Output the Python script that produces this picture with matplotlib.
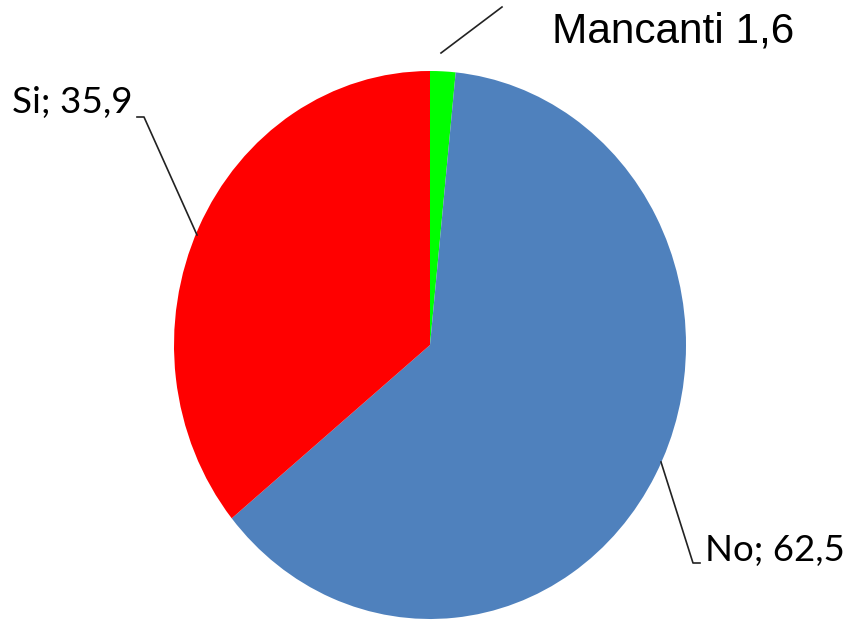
import matplotlib
matplotlib.use("Agg")
from matplotlib import pyplot as plt
from matplotlib.lines import Line2D

# data
labels = ["Mancanti", "No", "Si"]
values = [1.6, 62.5, 35.9]
colors = ["#00FF00", "#4F81BD", "#FF0000"]

W, H = 848, 620

def fx(x):
    return x / W

def fy(y):
    return 1 - y / H

fig = plt.figure(figsize=(W / 100, H / 100), dpi=100)
# pie drawn slightly taller than wide, like the original
ax = fig.add_axes([fx(174), fy(619), (686 - 174) / W, (619 - 71) / H])
ax.pie(values, colors=colors, startangle=90, counterclock=False,
       wedgeprops=dict(linewidth=0))
ax.set_aspect("auto")
ax.set_xlim(-1, 1)
ax.set_ylim(-1, 1)
ax.axis("off")

def fmt(v):
    return ("%.1f" % v).replace(".", ",")

# leader lines (pixel positions of the label anchors)
leaders = [
    [(441, 53), (502, 7)],
    [(661, 462), (693, 563), (700, 563)],
    [(197, 235), (144, 117), (137, 117)],
]
for pts in leaders:
    xs = [fx(p[0]) for p in pts]
    ys = [fy(p[1]) for p in pts]
    fig.add_artist(Line2D(xs, ys, color="#222222", lw=1.2, transform=fig.transFigure))

fig.text(fx(552), fy(32), labels[0] + " " + fmt(values[0]), fontsize=30.5,
         family="Liberation Sans", va="center", ha="left")
fig.text(fx(705), fy(550), labels[1] + "; " + fmt(values[1]), fontsize=26.4,
         family="Lato", va="center", ha="left")
fig.text(fx(12), fy(102), labels[2] + "; " + fmt(values[2]), fontsize=26.6,
         family="Lato", va="center", ha="left")

fig.savefig("out.png", dpi=100)
